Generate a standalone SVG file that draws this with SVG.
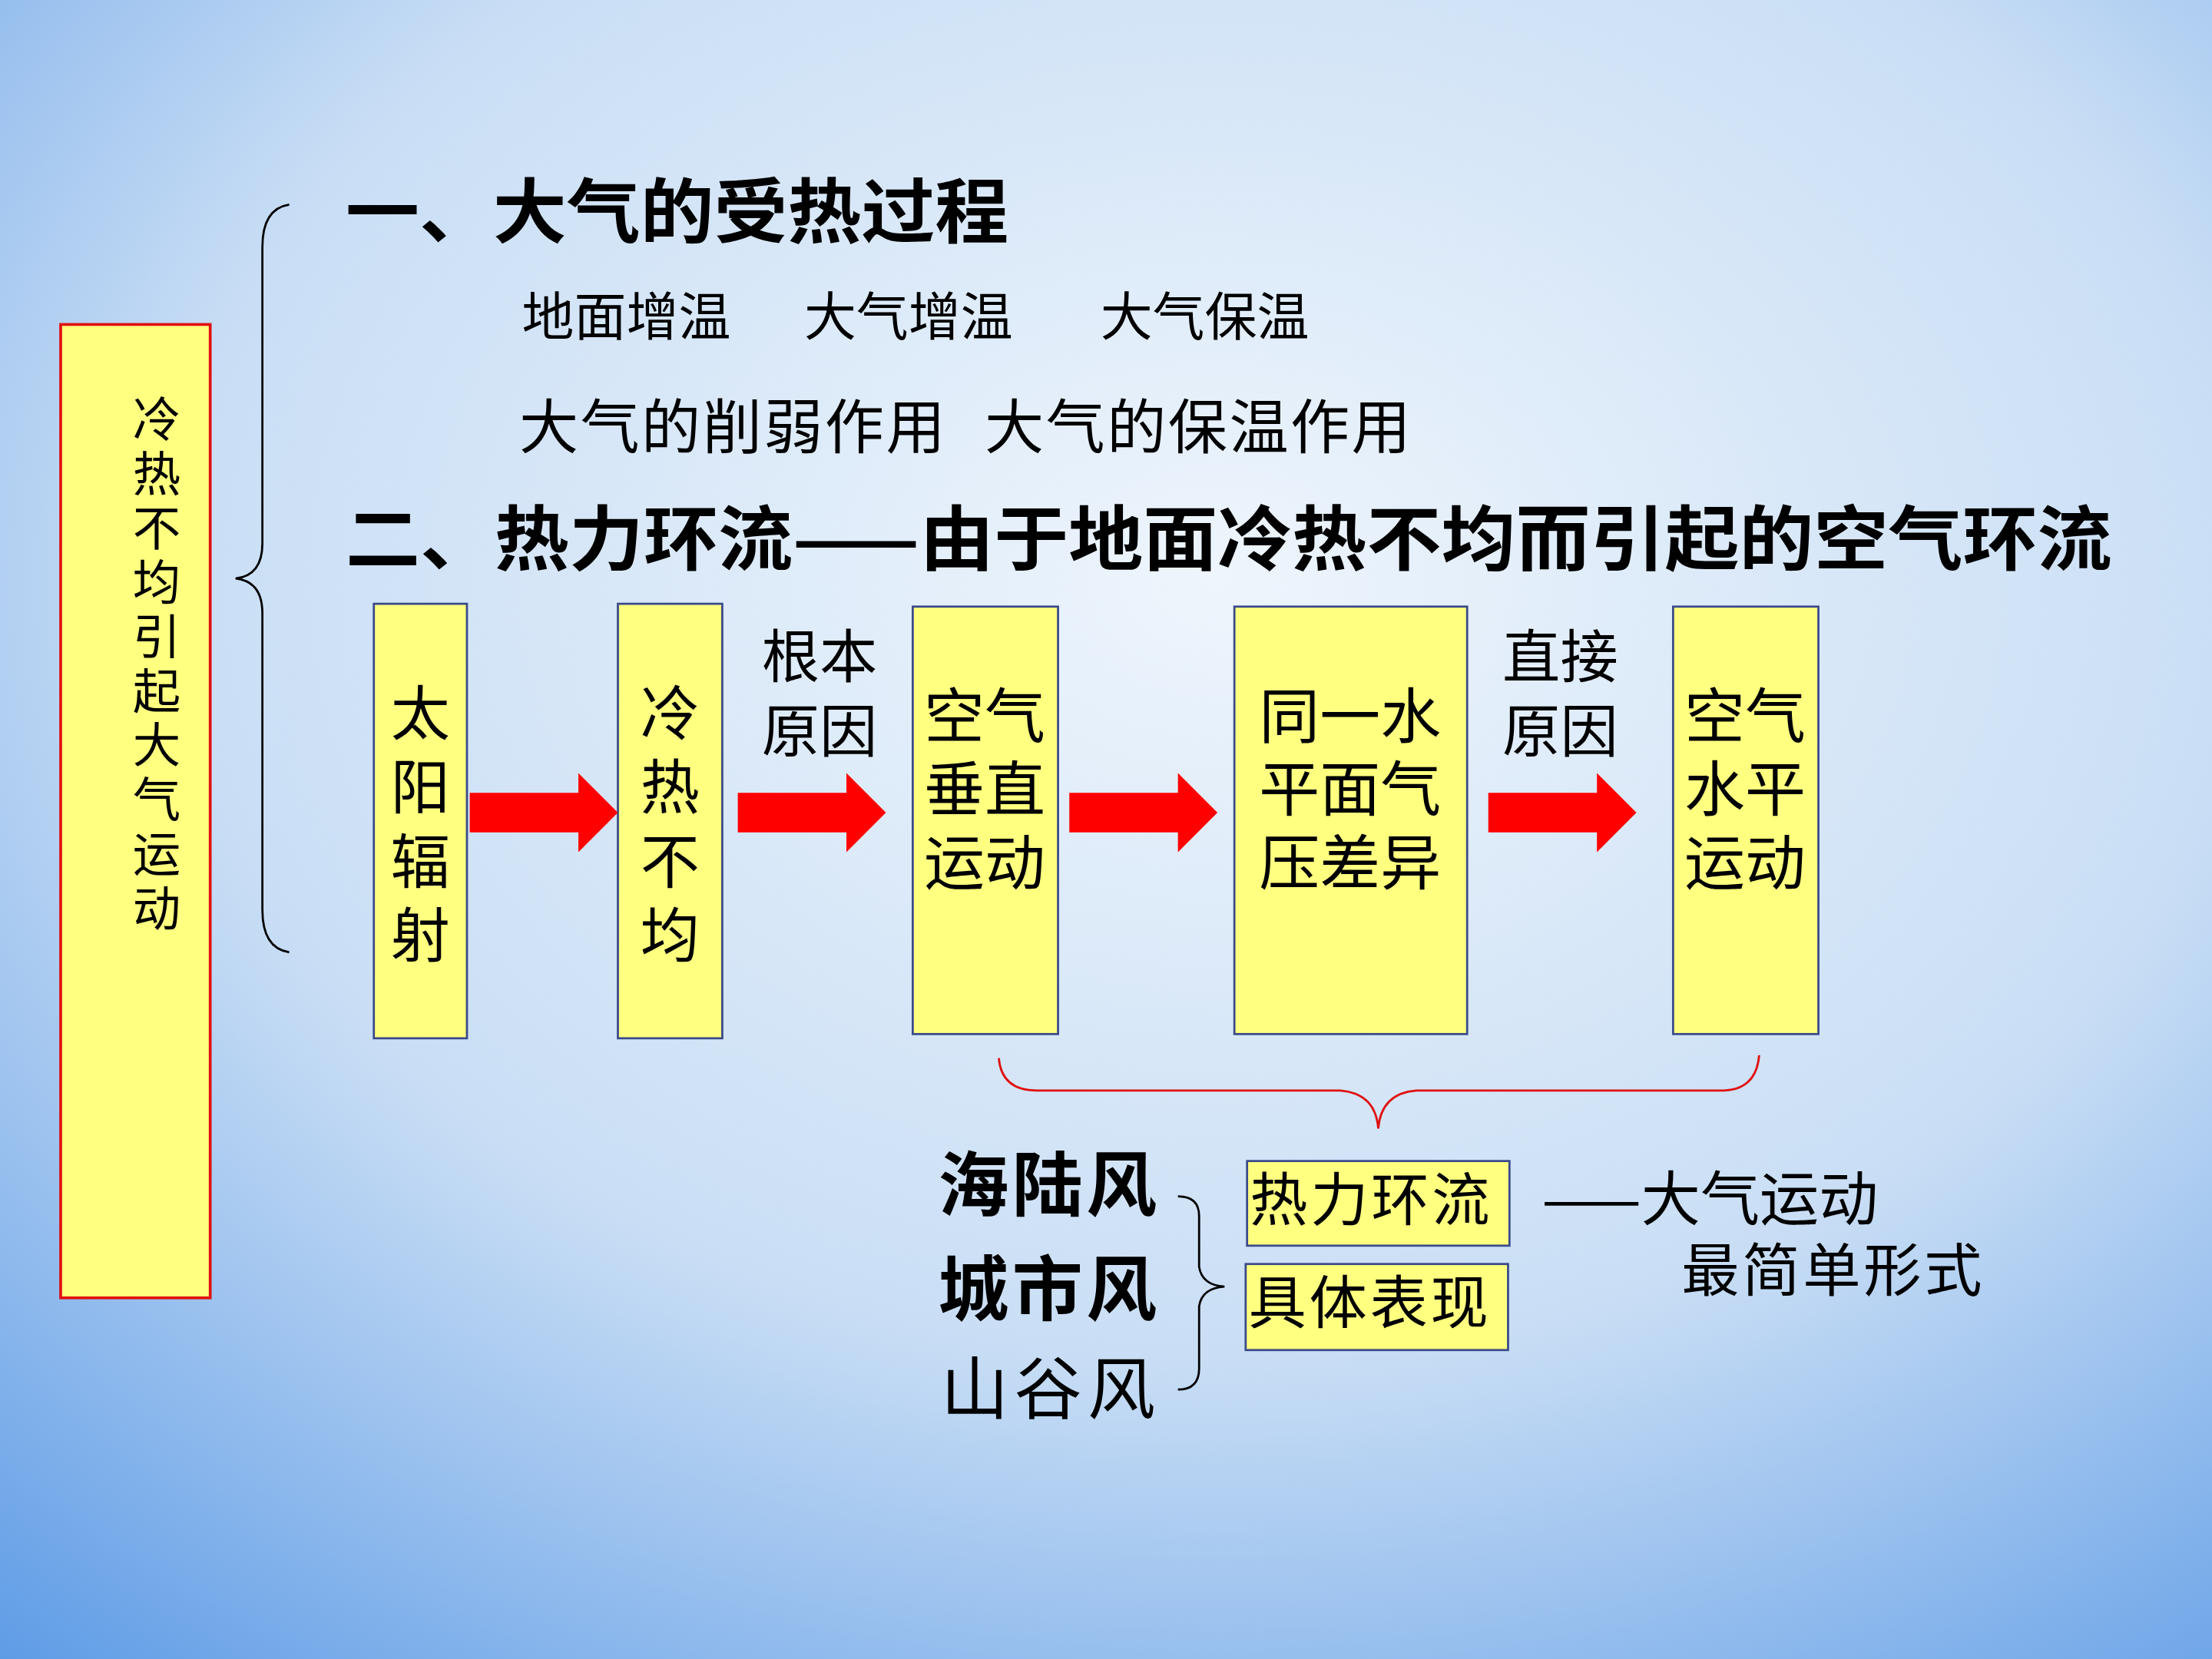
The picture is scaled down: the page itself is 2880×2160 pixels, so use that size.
<svg xmlns="http://www.w3.org/2000/svg" width="2880" height="2160" viewBox="0 0 2880 2160">
<defs>
<radialGradient id="bg" cx="0.55" cy="0.35" r="0.85">
<stop offset="0" stop-color="#eef5fc"/>
<stop offset="0.55" stop-color="#c9def5"/>
<stop offset="1" stop-color="#5f9ce6"/>
</radialGradient>
<style>
.box{fill:#ffff80;stroke:#3a4a8a;stroke-width:1.5}
.t{font-family:"Noto Sans CJK SC","Noto Sans CJK JP",sans-serif;fill:#000}
.v{writing-mode:vertical-rl;text-orientation:upright}
.b{font-weight:bold}
.arr{fill:#ff0000}
.br{fill:none;stroke-width:1.5}
</style>
</defs>
<rect width="2880" height="2160" fill="url(#bg)"/>
<g transform="scale(1.836735)">
<g id="main-box">
<rect x="43" y="230" width="106" height="690" fill="#ffff80" stroke="#e01010" stroke-width="2"/>
<text class="t v" font-size="34" letter-spacing="4.5" x="111" y="280">冷热不均引起大气运动</text>
</g>
<g id="titles">
<text class="t b" font-size="50" x="245" y="168" textLength="470" lengthAdjust="spacingAndGlyphs">一、大气的受热过程</text>
<text class="t" font-size="37" x="370" y="238">地面增温</text>
<text class="t" font-size="37" x="570" y="238">大气增温</text>
<text class="t" font-size="37" x="780" y="238">大气保温</text>
<text class="t" font-size="42" x="368" y="318" textLength="302">大气的削弱作用</text>
<text class="t" font-size="42" x="698" y="318" textLength="302">大气的保温作用</text>
<text class="t b" font-size="50" x="245" y="400" textLength="1252" lengthAdjust="spacingAndGlyphs">二、热力环流——由于地面冷热不均而引起的空气环流</text>
</g>
<g id="n1"><rect class="box" x="265" y="428" width="66" height="308"/>
<text class="t v" font-size="42" letter-spacing="10.5" x="298" y="484">太阳辐射</text></g>
<g id="n2"><rect class="box" x="438" y="428" width="74" height="308"/>
<text class="t v" font-size="42" letter-spacing="10.5" x="475" y="484">冷热不均</text></g>
<g id="n3"><rect class="box" x="647" y="430" width="103" height="303"/>
<text class="t" font-size="43" text-anchor="middle"><tspan x="698" y="523">空气</tspan><tspan x="698" y="575">垂直</tspan><tspan x="698" y="627">运动</tspan></text></g>
<g id="n4"><rect class="box" x="875" y="430" width="165" height="303"/>
<text class="t" font-size="43" text-anchor="middle"><tspan x="957" y="523">同一水</tspan><tspan x="957" y="575">平面气</tspan><tspan x="957" y="627">压差异</tspan></text></g>
<g id="n5"><rect class="box" x="1186" y="430" width="103" height="303"/>
<text class="t" font-size="43" text-anchor="middle"><tspan x="1237" y="523">空气</tspan><tspan x="1237" y="575">水平</tspan><tspan x="1237" y="627">运动</tspan></text></g>
<g id="connectors">
<path class="arr" d="M333,562 H410 V548 L438,576 L410,604 V590 H333 Z"/>
<path class="arr" d="M523,562 H600 V548 L628,576 L600,604 V590 H523 Z"/>
<path class="arr" d="M758,562 H835 V548 L863,576 L835,604 V590 H758 Z"/>
<path class="arr" d="M1055,562 H1132 V548 L1160,576 L1132,604 V590 H1055 Z"/>
<path class="br" stroke="#000" d="M205,145 Q186,148 186,175 V385 Q186,408 167,410 Q186,412 186,435 V645 Q186,672 205,675"/>
<path class="br" stroke="#e01010" d="M708,750 Q710,773 735,773 H950 Q975,775 977,800 Q979,775 1004,773 H1222 Q1245,772 1247,748"/>
<path class="br" stroke="#000" d="M835,848 Q850,848 850,862 V898 Q852,911 868,912 Q852,913 850,926 V970 Q850,985 835,985"/>
</g>
<g id="labels">
<text class="t" font-size="41"><tspan x="540" y="480">根本</tspan><tspan x="540" y="533">原因</tspan></text>
<text class="t" font-size="41"><tspan x="1065" y="480">直接</tspan><tspan x="1065" y="533">原因</tspan></text>
<text class="t b" font-size="50" x="665" y="858" textLength="155">海陆风</text>
<text class="t b" font-size="50" x="665" y="932" textLength="155">城市风</text>
<text class="t" font-size="48" x="667" y="1002" textLength="152">山谷风</text>
</g>
<g id="n6"><rect class="box" x="884" y="823" width="186" height="60"/>
<text class="t" font-size="41" x="886" y="865" textLength="170">热力环流</text></g>
<g id="n7"><rect class="box" x="883" y="896" width="186" height="61"/>
<text class="t" font-size="41" x="885" y="938" textLength="170">具体表现</text></g>
<g id="note">
<text class="t" font-size="42" x="1093" y="865">——大气运动</text>
<text class="t" font-size="41" x="1192" y="915" textLength="213">最简单形式</text>
</g>
</g>
</svg>
